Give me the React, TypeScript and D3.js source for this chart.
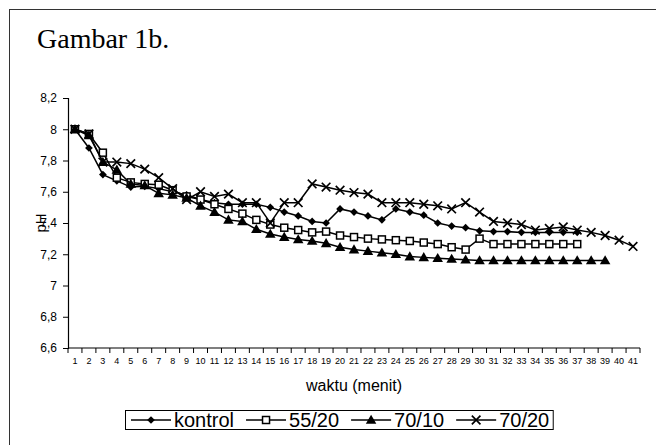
import React, { useEffect, useRef } from "react";
import * as d3 from "d3";

const minutes: string[] = d3.range(1, 42).map((d) => String(d));

const kontrol: number[] = [
  8.0, 7.88, 7.71, 7.67, 7.63, 7.635, 7.62, 7.6, 7.58, 7.55, 7.53, 7.52, 7.52, 7.52,
  7.5, 7.47, 7.445, 7.41, 7.4, 7.49, 7.47, 7.445, 7.42, 7.49, 7.47, 7.45, 7.4, 7.38,
  7.37, 7.35, 7.345, 7.345, 7.34, 7.34, 7.34, 7.34, 7.34,
];

const s5520: number[] = [
  8.0, 7.97, 7.85, 7.69, 7.66, 7.65, 7.645, 7.61, 7.57, 7.55, 7.52, 7.49, 7.46, 7.42,
  7.39, 7.37, 7.355, 7.34, 7.345, 7.32, 7.31, 7.3, 7.295, 7.29, 7.285, 7.275, 7.265,
  7.245, 7.23, 7.3, 7.265, 7.265, 7.265, 7.265, 7.265, 7.265, 7.265,
];

const s7010: number[] = [
  8.0, 7.96, 7.79, 7.74, 7.65, 7.64, 7.59, 7.58, 7.56, 7.51, 7.47, 7.42, 7.41, 7.36,
  7.33, 7.31, 7.295, 7.285, 7.27, 7.245, 7.23, 7.22, 7.21, 7.2, 7.185, 7.18, 7.175,
  7.17, 7.165, 7.16, 7.16, 7.16, 7.16, 7.16, 7.16, 7.16, 7.16, 7.16, 7.16,
];

const s7020: number[] = [
  8.0, 7.97, 7.79, 7.79, 7.78, 7.745, 7.69, 7.62, 7.55, 7.6, 7.57, 7.585, 7.53, 7.53,
  7.4, 7.53, 7.53, 7.65, 7.63, 7.61, 7.595, 7.585, 7.53, 7.53, 7.53, 7.52, 7.51, 7.49,
  7.53, 7.47, 7.41, 7.4, 7.39, 7.355, 7.365, 7.375, 7.355, 7.34, 7.32, 7.29, 7.25,
];

const seriesNames: string[] = ["kontrol", "55/20", "70/10", "70/20"];
const yTicks: number[] = [6.6, 6.8, 7.0, 7.2, 7.4, 7.6, 7.8, 8.0, 8.2];

type Marker = "diamond" | "square" | "triangle" | "x";

interface Series {
  name: string;
  values: number[];
  marker: Marker;
}

const series: Series[] = [
  { name: seriesNames[0], values: kontrol, marker: "diamond" },
  { name: seriesNames[1], values: s5520, marker: "square" },
  { name: seriesNames[2], values: s7010, marker: "triangle" },
  { name: seriesNames[3], values: s7020, marker: "x" },
];

const fmt = (v: number) => d3.format("~g")(v).replace(".", ",");

// draws one marker centred at the origin of group g
function drawMarker(g: d3.Selection<SVGGElement, unknown, null, undefined>, m: Marker) {
  if (m === "diamond") {
    g.append("path")
      .attr("d", d3.symbol(d3.symbolSquare, 30)() as string)
      .attr("transform", "rotate(45)")
      .attr("fill", "#000");
  } else if (m === "square") {
    g.append("rect")
      .attr("x", -3.5)
      .attr("y", -3.5)
      .attr("width", 7)
      .attr("height", 7)
      .attr("fill", "#fff")
      .attr("stroke", "#000")
      .attr("stroke-width", 1.5);
  } else if (m === "triangle") {
    g.append("path")
      .attr("d", d3.symbol(d3.symbolTriangle, 48)() as string)
      .attr("transform", "translate(0,0.8)")
      .attr("fill", "#000");
  } else {
    g.append("path")
      .attr("d", d3.symbol(d3.symbolX, 50)() as string)
      .attr("fill", "none")
      .attr("stroke", "#000")
      .attr("stroke-width", 1.7);
  }
}

const App: React.FC = () => {
  const svgRef = useRef<SVGSVGElement | null>(null);
  const width = 656;
  const height = 445;

  useEffect(() => {
    if (!svgRef.current) return;
    document.body.style.margin = "0";

    const svg = d3.select(svgRef.current);
    svg.selectAll("*").remove();

    const margin = { top: 98, right: 16, bottom: 97, left: 68 };
    const x = d3
      .scaleBand<string>()
      .domain(minutes)
      .range([margin.left, width - margin.right]);
    const y = d3
      .scaleLinear()
      .domain([6.6, 8.2])
      .range([height - margin.bottom, margin.top]);

    // outer frame (only top and left edges visible)
    svg
      .append("rect")
      .attr("x", 9.5)
      .attr("y", 9.5)
      .attr("width", 700)
      .attr("height", 500)
      .attr("fill", "none")
      .attr("stroke", "#333")
      .attr("stroke-width", 1);

    svg
      .append("text")
      .attr("x", 37)
      .attr("y", 48)
      .attr("font-family", "Liberation Serif, Times New Roman, serif")
      .attr("font-size", 28)
      .text("Gambar 1b.");

    // y axis
    const yAxis = svg
      .append("g")
      .attr("transform", `translate(${margin.left},0)`)
      .call(
        d3
          .axisLeft(y)
          .tickValues(yTicks)
          .tickSize(5)
          .tickPadding(6)
          .tickFormat((d) => fmt(d as number))
      );
    yAxis.select(".domain").attr("stroke", "#000").attr("stroke-width", 1.2);
    yAxis.selectAll(".tick line").attr("stroke", "#000");
    yAxis
      .selectAll(".tick text")
      .attr("font-family", "Liberation Sans, Arial, sans-serif")
      .attr("font-size", 12)
      .attr("fill", "#000");

    // x axis, ticks between categories
    const xAxisG = svg
      .append("g")
      .attr("transform", `translate(0,${height - margin.bottom})`);
    xAxisG
      .append("line")
      .attr("x1", margin.left)
      .attr("x2", width - margin.right)
      .attr("stroke", "#000")
      .attr("stroke-width", 1.2);
    xAxisG
      .selectAll("line.tk")
      .data([...minutes.map((m) => x(m) as number), width - margin.right])
      .join("line")
      .attr("class", "tk")
      .attr("x1", (d) => d)
      .attr("x2", (d) => d)
      .attr("y1", 0)
      .attr("y2", 5)
      .attr("stroke", "#000");
    xAxisG
      .selectAll("text")
      .data(minutes)
      .join("text")
      .attr("x", (d) => (x(d) as number) + x.bandwidth() / 2)
      .attr("y", 16)
      .attr("text-anchor", "middle")
      .attr("font-family", "Liberation Sans, Arial, sans-serif")
      .attr("font-size", 9)
      .text((d) => d);

    svg
      .append("text")
      .attr("x", (margin.left + width - margin.right) / 2)
      .attr("y", 391)
      .attr("text-anchor", "middle")
      .attr("font-family", "Liberation Sans, Arial, sans-serif")
      .attr("font-size", 16)
      .text("waktu (menit)");

    svg
      .append("text")
      .attr("transform", `translate(46,${(margin.top + height - margin.bottom) / 2}) rotate(-90)`)
      .attr("text-anchor", "middle")
      .attr("font-family", "Liberation Sans, Arial, sans-serif")
      .attr("font-size", 15)
      .text("pH");

    // series
    const line = d3
      .line<number>()
      .x((_, i) => (x(minutes[i]) as number) + x.bandwidth() / 2)
      .y((d) => y(d));

    series.forEach((s) => {
      svg
        .append("path")
        .datum(s.values)
        .attr("d", line)
        .attr("fill", "none")
        .attr("stroke", "#000")
        .attr("stroke-width", 1.5);
      s.values.forEach((v, i) => {
        const g = svg
          .append("g")
          .attr(
            "transform",
            `translate(${(x(minutes[i]) as number) + x.bandwidth() / 2},${y(v)})`
          );
        drawMarker(g, s.marker);
      });
    });

    // legend
    const legend = svg.append("g");
    const box = legend
      .append("rect")
      .attr("y", 410.5)
      .attr("height", 19)
      .attr("fill", "#fff")
      .attr("stroke", "#000")
      .attr("stroke-width", 1);
    const sample = 40;
    let lx = 131;
    const ly = 420;
    series.forEach((s, i) => {
      legend
        .append("line")
        .attr("x1", lx)
        .attr("x2", lx + sample)
        .attr("y1", ly)
        .attr("y2", ly)
        .attr("stroke", "#000")
        .attr("stroke-width", 1.5);
      const mg = legend
        .append("g")
        .attr("transform", `translate(${lx + sample / 2},${ly})`);
      drawMarker(mg, s.marker);
      const t = legend
        .append("text")
        .attr("x", lx + sample + 3)
        .attr("y", ly + 7)
        .attr("font-family", "Liberation Sans, Arial, sans-serif")
        .attr("font-size", 20)
        .text(s.name);
      const tw = (t.node() as SVGTextElement).getComputedTextLength();
      lx += sample + 3 + tw + (i < series.length - 1 ? 12 : 4);
    });
    box.attr("x", 125.5).attr("width", lx - 125.5);
  }, []);

  return (
    <div style={{ position: "absolute", left: 0, top: 0 }}>
      <svg ref={svgRef} width={width} height={height}></svg>
    </div>
  );
};

export default App;
